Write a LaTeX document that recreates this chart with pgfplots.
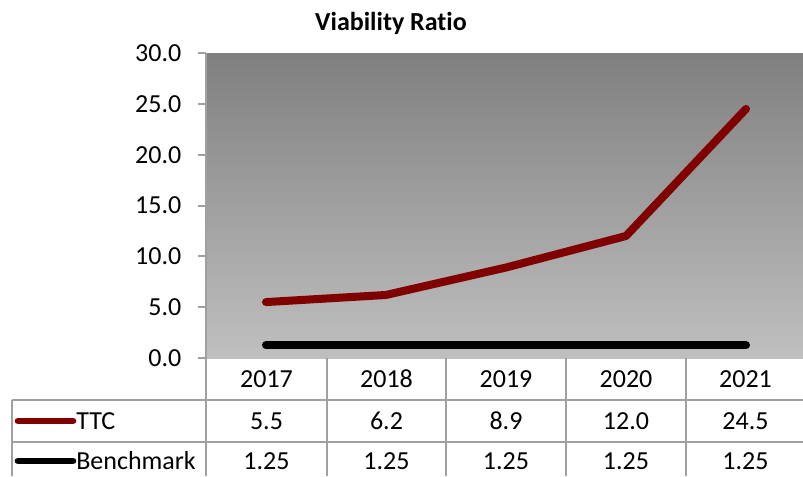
\documentclass[border=0pt]{standalone}
\usepackage{pgfplots}
\pgfplotsset{compat=1.18}
\usepackage{fontspec}
\setmainfont{Carlito}[Ligatures={NoCommon}]
\definecolor{ttc}{HTML}{800000}
\definecolor{gridc}{HTML}{A0A0A0}
\newcommand{\tfont}{\fontsize{19.5}{23}\selectfont}
\begin{document}
\begin{tikzpicture}[x=0.75pt,y=0.75pt]
\useasboundingbox (0,0) rectangle (803,476);
\begin{axis}[
  at={(154.5pt,88.5pt)}, anchor=south west,
  scale only axis, width=450pt, height=228.75pt,
  xmin=-0.5, xmax=4.5, ymin=0, ymax=30,
  axis x line=none, axis y line*=left,
  y axis line style={gridc, line width=1.5pt},
  xtick=\empty,
  ytick={0,5,...,30},
  yticklabel style={xshift=-9pt, /pgf/number format/.cd, fixed, fixed zerofill, precision=1, assume math mode=true},
  ticklabel style={font=\tfont, text=black},
  tick align=outside, major tick length=6pt,
  tick style={gridc, line width=1.5pt},
  axis background/.style={top color=black!50, bottom color=black!25},
  clip=false,
]
\addplot[ttc, line width=6pt, line cap=round, line join=round] coordinates {(0,5.5) (1,6.2) (2,8.9) (3,12.0) (4,24.5)};
\addplot[black, line width=6pt, line cap=round, line join=round] coordinates {(0,1.25) (1,1.25) (2,1.25) (3,1.25) (4,1.25)};
\end{axis}
% title
\node[font=\fontsize{19.5}{23}\selectfont\bfseries] at (391,453) {Viability Ratio};
% table lines
\begin{scope}[gridc, line width=1.5pt]
\draw (12,76) -- (806,76);
\draw (12,34) -- (806,34);
\draw (12,76) -- (12,0);
\foreach \x in {206,327,446,566,686} \draw (\x,118) -- (\x,0);
\end{scope}
% header
\foreach \x/\t in {266.5/2017,386.5/2018,506/2019,626/2020,745.5/2021}
  \node[font=\tfont] at (\x,97) {\t};
\foreach \x/\t in {266.5/5.5,386.5/6.2,506/8.9,626/12.0,745.5/24.5}
  \node[font=\tfont] at (\x,55) {\t};
\foreach \x/\t in {266.5/1.25,386.5/1.25,506/1.25,626/1.25,745.5/1.25}
  \node[font=\tfont] at (\x,15) {\t};
% legend keys
\draw[ttc, line width=5pt, line cap=round] (18,55) -- (73,55);
\draw[black, line width=5pt, line cap=round] (18,15) -- (73,15);
\node[font=\tfont, anchor=west, inner sep=0pt] at (76,55) {TTC};
\node[font=\tfont, anchor=west, inner sep=0pt] at (76,15) {Benchmark};
\end{tikzpicture}
\end{document}
